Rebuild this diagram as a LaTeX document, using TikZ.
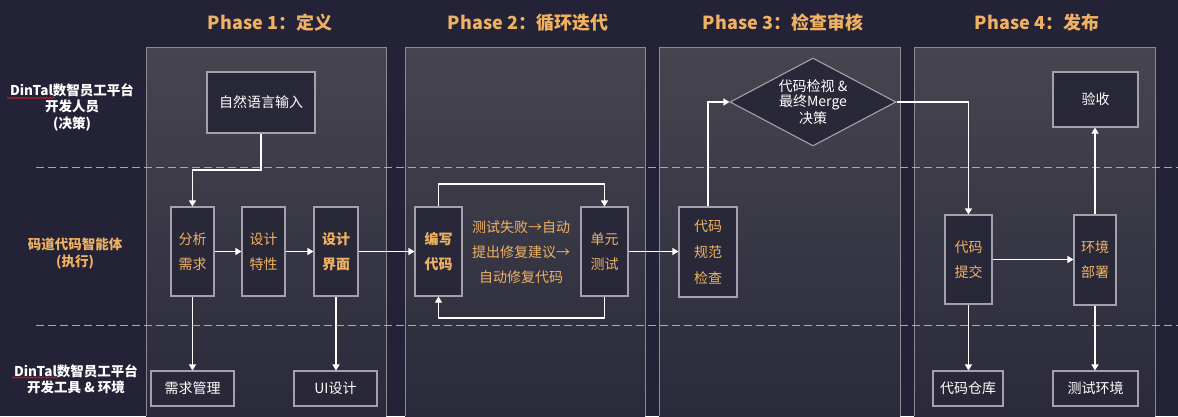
\documentclass[tikz,border=0pt]{standalone}
\usepackage{fontspec}
\setmainfont{Noto Sans CJK SC}
\usetikzlibrary{arrows.meta,shapes.geometric,decorations.pathmorphing}
\definecolor{bg}{HTML}{232236}
\definecolor{ptop}{HTML}{46454F}
\definecolor{pbot}{HTML}{2B2A3B}
\definecolor{pborder}{HTML}{8C8B93}
\definecolor{nfill}{HTML}{292838}
\definecolor{nborder}{HTML}{A3A2AA}
\definecolor{org}{HTML}{F0B262}
\definecolor{dashc}{HTML}{A8A8AE}
\definecolor{squig}{HTML}{E02020}
\begin{document}
\begin{tikzpicture}[x=1pt,y=-1pt,
  box/.style={draw=nborder, fill=nfill, line width=1.1pt, inner sep=0pt, text=white, align=center, font=\fontsize{14}{25}\selectfont},
  vbox/.style={box, text=org},
  titletext/.style={text=org, font=\fontsize{18}{22}\selectfont\bfseries, inner sep=0pt},
  lanetext/.style={font=\fontsize{13.5}{16.5}\selectfont\bfseries, align=center, inner sep=0pt},
  panel/.style={draw=pborder, line width=0.9pt},
  lanesep/.style={draw=dashc, line width=1pt, dash pattern=on 8pt off 4pt},
  conn/.style={draw=white, line width=1.1pt, -{Triangle[width=7pt,length=6pt]}},
  squiggle/.style={draw=squig, line width=0.6pt, decorate, decoration={snake, amplitude=0.8pt, segment length=3pt}}
]
\useasboundingbox (0,0) rectangle (1178,416);
\fill[bg] (0,0) rectangle (1178,416);

% panels
\foreach \xa/\xb in {146/386, 405/645, 659/900, 914/1155}{
  \shade[top color=ptop, bottom color=pbot] (\xa,47) rectangle (\xb,416);
  \draw[panel] (\xa,416) -- (\xa,47) -- (\xb,47) -- (\xb,416);
}

% lane separators
\draw[lanesep] (36,167) -- (1178,167);
\draw[lanesep] (36,325) -- (1178,325);

% titles
\node[titletext] (t1) at (270,23) {Phase 1：定义};
\node[titletext] (t2) at (528,23) {Phase 2：循环迭代};
\node[titletext] (t3) at (783,23) {Phase 3：检查审核};
\node[titletext] (t4) at (1037,23) {Phase 4：发布};

% lane labels
\node[lanetext, text=white] (l1) at (72,107) {DinTal数智员工平台\\开发人员\\(决策)};
\node[lanetext, text=org] (l2) at (75,253.5) {码道代码智能体\\(执行)};
\node[lanetext, text=white] (l3) at (76,379) {DinTal数智员工平台\\开发工具 \& 环境};
\draw[squiggle] (7,98) -- (55,98);
\draw[squiggle] (12,377.5) -- (58,377.5);

% row 1
\node[box, minimum width=108pt, minimum height=61pt] (zr) at (261,102.5) {自然语言输入};
\node[box, shape=diamond, aspect=1.886, minimum width=166pt, minimum height=88pt,
      font=\fontsize{14}{15}\selectfont] (dm) at (813,102) {代码检视 \&\\最终Merge\\决策};
\node[box, minimum width=85pt, minimum height=55pt] (ys) at (1095.5,99.5) {验收};

% row 2
\node[vbox, minimum width=43pt, minimum height=89pt] (fx) at (192.5,251.5) {分析\\需求};
\node[vbox, minimum width=43pt, minimum height=89pt] (tx) at (263.5,251.5) {设计\\特性};
\node[vbox, minimum width=44pt, minimum height=89pt, font=\fontsize{14}{25}\selectfont\bfseries] (jm) at (336,251.5) {设计\\界面};
\node[vbox, minimum width=47pt, minimum height=89pt, font=\fontsize{14}{25}\selectfont\bfseries] (bx) at (438.5,251.5) {编写\\代码};
\node[text=org, align=center, inner sep=0pt, font=\fontsize{14}{25}\selectfont] (mid) at (521,252) {测试失败→自动\\提出修复建议→\\自动修复代码};
\node[vbox, minimum width=47pt, minimum height=89pt] (cs) at (604.5,251.5) {单元\\测试};
\node[vbox, minimum width=58pt, minimum height=90pt, font=\fontsize{14}{26}\selectfont] (gf) at (708,252) {代码\\规范\\检查};
\node[vbox, minimum width=47pt, minimum height=89pt] (tj) at (968.5,259.5) {代码\\提交};
\node[vbox, minimum width=42pt, minimum height=90pt] (hj) at (1095,260) {环境\\部署};

% row 3
\node[box, minimum width=83pt, minimum height=35pt] (xq) at (192.5,388.5) {需求管理};
\node[box, minimum width=83pt, minimum height=35pt] (ui) at (335.5,388.5) {UI设计};
\node[box, minimum width=70pt, minimum height=35pt] (ck) at (968,388.5) {代码仓库};
\node[box, minimum width=85pt, minimum height=35pt] (hjc) at (1095.5,388.5) {测试环境};

% connectors
\draw[conn] (zr.south) -- (zr.south |- 0,170) -| (fx.north);
\draw[conn] (fx.east) -- (tx.west);
\draw[conn] (tx.east) -- (jm.west);
\draw[conn] (jm.east) -- (bx.west);
\draw[conn] (bx.north) -- (bx.north |- 0,184) -| (cs.north);
\draw[conn] (cs.south) -- (cs.south |- 0,318) -| (bx.south);
\draw[conn] (cs.east) -- (cs.east -| gf.west);
\draw[conn] (gf.north) |- (dm.west);
\draw[conn] (dm.east) -| (tj.north);
\draw[conn] (tj.east) -- (tj.east -| hj.west);
\draw[conn] (hj.north) -- (hj.north |- ys.south);
\draw[conn] (fx.south) -- (fx.south |- xq.north);
\draw[conn] (jm.south) -- (jm.south |- ui.north);
\draw[conn] (tj.south) -- (tj.south |- ck.north);
\draw[conn] (hj.south) -- (hj.south |- hjc.north);
\end{tikzpicture}
\end{document}
